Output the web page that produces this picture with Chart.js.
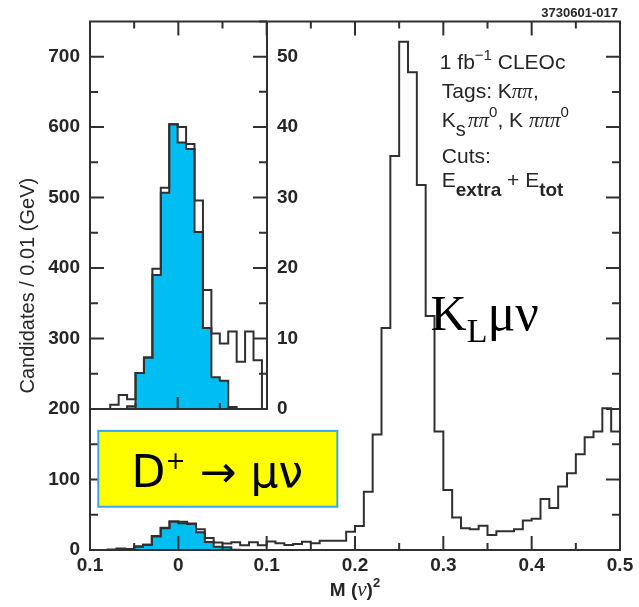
<!DOCTYPE html>
<html>
<head>
<meta charset="utf-8">
<script src="https://cdn.jsdelivr.net/npm/chart.js@4.4.0/dist/chart.umd.min.js"></script>
<style>
  html, body { margin: 0; padding: 0; background: #fff; }
  #wrap { position: relative; width: 639px; height: 607px; }
  #wrap canvas { position: absolute; left: 0; top: 0; }
</style>
</head>
<body>
<div id="wrap">
  <canvas id="main" width="639" height="607"></canvas>
  <canvas id="inset" width="320" height="440"></canvas>
</div>
<script>
// M(nu)^2 histogram, 0.01 wide bins starting at -0.1
const binLow = -0.1;
const binWidth = 0.01;

// all candidates per bin
const allCounts = [
  0, 0, 0.6, 2.0, 1.4, 5.1, 7.3, 19.9, 31.4, 40.4,
  40.0, 37.6, 29.6, 16.9, 10.7, 9.3, 11.0, 6.7, 11.0, 6.9,
  12, 9.5, 7.1, 8.5, 11.8, 9.5, 13.2, 13.2, 13.2, 26,
  34, 82.8, 164, 315, 559, 721, 678, 518, 332, 168,
  85, 46, 31, 29.5, 34.5, 21.3, 26.5, 26.5, 29.5, 42,
  44.5, 72.4, 59.5, 90, 109, 136, 160, 168, 201, 168
];

// D+ -> mu nu signal (shaded)
const signalCounts = [
  0, 0, 0, 0, 0.4, 5.1, 7.3, 19.0, 30.7, 40.4,
  37.8, 36.9, 25.1, 11.5, 4.5, 4.0, 0.3, 0, 0, 0,
  0, 0, 0, 0, 0, 0, 0, 0, 0, 0,
  0, 0, 0, 0, 0, 0, 0, 0, 0, 0,
  0, 0, 0, 0, 0, 0, 0, 0, 0, 0,
  0, 0, 0, 0, 0, 0, 0, 0, 0, 0
];

// axis ticks
const xTickValues = [-0.1, 0, 0.1, 0.2, 0.3, 0.4, 0.5];
const xTickLabels = ['0.1', '0', '0.1', '0.2', '0.3', '0.4', '0.5'];
const xMinorTicks = [-0.05, 0.05, 0.15, 0.25, 0.35, 0.45];
const yTickValues = [0, 100, 200, 300, 400, 500, 600, 700];
const yMinorTicks = [50, 150, 250, 350, 450, 550, 650, 750];
const insetYTicks = [0, 10, 20, 30, 40, 50];
const insetYMinor = [5, 15, 25, 35, 45, 55];
const insetXTicks = [0];
const insetXMinor = [-0.05, 0.05];

const ink = '#303030';
const textInk = '#262626';
const blue = '#00bdf2';
const sans = '"Liberation Sans", Arial, sans-serif';
const serif = '"Liberation Serif", "Times New Roman", serif';
const rounded = '"DejaVu Sans", sans-serif';

// step outline: rises at the first edge, drops back to zero after the last bin
function histPoints(counts, from, to) {
  const pts = [{ x: binLow + from * binWidth, y: 0 }];
  for (let i = from; i < to; i++) {
    pts.push({ x: binLow + i * binWidth, y: counts[i] });
  }
  pts.push({ x: binLow + to * binWidth, y: 0 });
  return pts;
}

// draw a row of text pieces, each with its own font and vertical shift
function drawRuns(ctx, x, y, runs) {
  runs.forEach(([text, font, dy]) => {
    ctx.font = font;
    ctx.fillText(text, x, y + (dy || 0));
    x += ctx.measureText(text).width;
  });
  return x;
}

function runsWidth(ctx, runs) {
  let w = 0;
  runs.forEach(([text, font]) => { ctx.font = font; w += ctx.measureText(text).width; });
  return w;
}

// frame lines and inward tick marks
const frame = {
  id: 'frame',
  afterDatasetsDraw(chart, args, o) {
    const { ctx, chartArea: a } = chart;
    const xs = chart.scales.x, ys = chart.scales.y;
    ctx.save();
    ctx.strokeStyle = ink;
    ctx.lineWidth = 2;
    ctx.beginPath();
    if (o.box) {
      ctx.rect(a.left, a.top, a.right - a.left, a.bottom - a.top);
    } else {
      ctx.moveTo(a.left, a.bottom);
      ctx.lineTo(a.right, a.bottom);
      ctx.lineTo(a.right, a.top);
    }
    o.marks.forEach(m => {
      m.values.forEach(v => {
        if (m.side === 'bottom' || m.side === 'top') {
          const px = xs.getPixelForValue(v);
          const y0 = m.side === 'bottom' ? a.bottom : a.top;
          ctx.moveTo(px, y0);
          ctx.lineTo(px, m.side === 'bottom' ? y0 - m.len : y0 + m.len);
        } else {
          const py = ys.getPixelForValue(v);
          const x0 = m.side === 'left' ? a.left : a.right;
          ctx.moveTo(x0, py);
          ctx.lineTo(m.side === 'left' ? x0 + m.len : x0 - m.len, py);
        }
      });
    });
    ctx.stroke();
    ctx.restore();
  }
};

// labels drawn over the main plot
const notes = {
  id: 'notes',
  afterDraw(chart) {
    const { ctx, chartArea: a, scales: { x, y } } = chart;
    ctx.save();
    ctx.fillStyle = textInk;
    ctx.textBaseline = 'alphabetic';
    ctx.textAlign = 'left';

    // run info block
    const tx = x.getPixelForValue(0.296);
    const big = `21px ${sans}`, sup = `15px ${sans}`, pi = `italic 21px ${serif}`, sub = `bold 19px ${sans}`;
    drawRuns(ctx, tx, y.getPixelForValue(683), [['1 fb', big], ['\u22121', sup, -9], [' CLEOc', big]]);
    drawRuns(ctx, tx + 2, y.getPixelForValue(641), [['Tags: K', big], ['\u03c0\u03c0', pi], [',', big]]);
    drawRuns(ctx, tx + 2, y.getPixelForValue(600), [['K', big], ['s', `20px ${sans}`, 9], [' ', `8px ${sans}`],
      ['\u03c0\u03c0', pi], ['0', sup, -10], [', K ', big], ['\u03c0\u03c0\u03c0', pi], ['0', sup, -10]]);
    drawRuns(ctx, tx + 2, y.getPixelForValue(549), [['Cuts:', big]]);
    drawRuns(ctx, tx + 2, y.getPixelForValue(515), [['E', big], ['extra', sub, 9], [' + E', big], ['tot', sub, 9]]);

    // K_L mu nu peak label
    ctx.fillStyle = '#000';
    drawRuns(ctx, x.getPixelForValue(0.2855), y.getPixelForValue(312),
      [['K', `50px ${serif}`], ['L', `34px ${serif}`, 12], ['\u03bc\u03bd', `52px ${serif}`]]);

    // signal label box
    const bx0 = x.getPixelForValue(-0.0906), bx1 = x.getPixelForValue(0.18);
    const by0 = y.getPixelForValue(169), by1 = y.getPixelForValue(61.4);
    ctx.fillStyle = '#ffff00';
    ctx.fillRect(bx0, by0, bx1 - bx0, by1 - by0);
    ctx.strokeStyle = '#3aa6f0';
    ctx.lineWidth = 2;
    ctx.strokeRect(bx0, by0, bx1 - bx0, by1 - by0);
    ctx.fillStyle = '#000';
    drawRuns(ctx, x.getPixelForValue(-0.0529), y.getPixelForValue(89.7),
      [['D', `44px ${rounded}`], ['+', `24px ${rounded}`, -18], [' \u2192 ', `44px ${rounded}`], ['\u03bc\u03bd', `44px ${rounded}`]]);

    // figure id
    ctx.fillStyle = textInk;
    ctx.font = `bold 13px ${sans}`;
    ctx.textAlign = 'right';
    ctx.fillText('3730601-017', a.right - 2, a.top - 4);

    // x axis title
    ctx.textAlign = 'left';
    const title = [['M (', `bold 19px ${sans}`], ['\u03bd', `italic 21px ${serif}`], [')', `bold 19px ${sans}`], ['2', `bold 13px ${sans}`, -9]];
    const w = runsWidth(ctx, title);
    drawRuns(ctx, (a.left + a.right) / 2 - w / 2, 596, title);
    ctx.restore();
  }
};

const tickFont = { family: sans, size: 19, weight: 'bold' };
const line = { borderColor: ink, borderWidth: 2, stepped: true, pointRadius: 0 };

new Chart(document.getElementById('main'), {
  type: 'line',
  data: {
    datasets: [
      { ...line, data: histPoints(allCounts, 0, allCounts.length), fill: false, order: 0 },
      { ...line, data: histPoints(signalCounts, 0, signalCounts.length), backgroundColor: blue, fill: 'origin', order: 1 }
    ]
  },
  options: {
    responsive: false,
    animation: false,
    layout: { padding: { left: 0, top: 21, right: 19, bottom: 0 } },
    plugins: {
      legend: { display: false },
      tooltip: { enabled: false },
      frame: {
        box: true,
        marks: [
          { side: 'bottom', values: xTickValues, len: 14 },
          { side: 'bottom', values: xMinorTicks, len: 7 },
          { side: 'top', values: xTickValues, len: 14 },
          { side: 'top', values: xMinorTicks, len: 7 },
          { side: 'left', values: yTickValues, len: 14 },
          { side: 'left', values: yMinorTicks, len: 8 },
          { side: 'right', values: yTickValues, len: 14 },
          { side: 'right', values: yMinorTicks, len: 8 }
        ]
      }
    },
    scales: {
      x: {
        type: 'linear', min: -0.1, max: 0.5,
        afterBuildTicks: s => { s.ticks = xTickValues.map(v => ({ value: v })); },
        afterFit: s => { s.height = 57; },
        grid: { display: false, drawTicks: false },
        border: { display: false },
        ticks: { callback: (v, i) => xTickLabels[i], font: tickFont, color: textInk, padding: 4, maxRotation: 0, autoSkip: false }
      },
      y: {
        min: 0, max: 750,
        afterBuildTicks: s => { s.ticks = yTickValues.map(v => ({ value: v })); },
        afterFit: s => { s.width = 90; },
        grid: { display: false, drawTicks: false },
        border: { display: false },
        ticks: { font: tickFont, color: textInk, padding: 10 },
        title: {
          display: true, text: 'Candidates / 0.01 (GeV)',
          font: { family: sans, size: 20 }, color: textInk,
          padding: { top: 16, bottom: 0 }
        }
      }
    }
  },
  plugins: [frame, notes]
});

// zoomed view of the signal region, counts on the right-hand axis
const insetBins = Math.round((0.1 - binLow) / binWidth);

new Chart(document.getElementById('inset'), {
  type: 'line',
  data: {
    datasets: [
      { ...line, data: histPoints(allCounts, 0, insetBins), fill: false, order: 0 },
      { ...line, data: histPoints(signalCounts, 0, insetBins), backgroundColor: blue, fill: 'origin', order: 1 }
    ]
  },
  options: {
    responsive: false,
    animation: false,
    layout: { padding: { left: 90, top: 21, right: 0, bottom: 31 } },
    plugins: {
      legend: { display: false },
      tooltip: { enabled: false },
      frame: {
        box: false,
        marks: [
          { side: 'right', values: insetYTicks, len: 14 },
          { side: 'right', values: insetYMinor, len: 8 },
          { side: 'bottom', values: insetXTicks, len: 12 },
          { side: 'bottom', values: insetXMinor, len: 6 }
        ]
      }
    },
    scales: {
      x: { type: 'linear', min: -0.104, max: 0.106, display: false },
      y: {
        position: 'right', min: 0, max: 55,
        afterBuildTicks: s => { s.ticks = insetYTicks.map(v => ({ value: v })); },
        afterFit: s => { s.width = 53; },
        grid: { display: false, drawTicks: false },
        border: { display: false },
        ticks: { font: tickFont, color: textInk, padding: 10 }
      }
    }
  },
  plugins: [frame]
});
</script>
</body>
</html>
